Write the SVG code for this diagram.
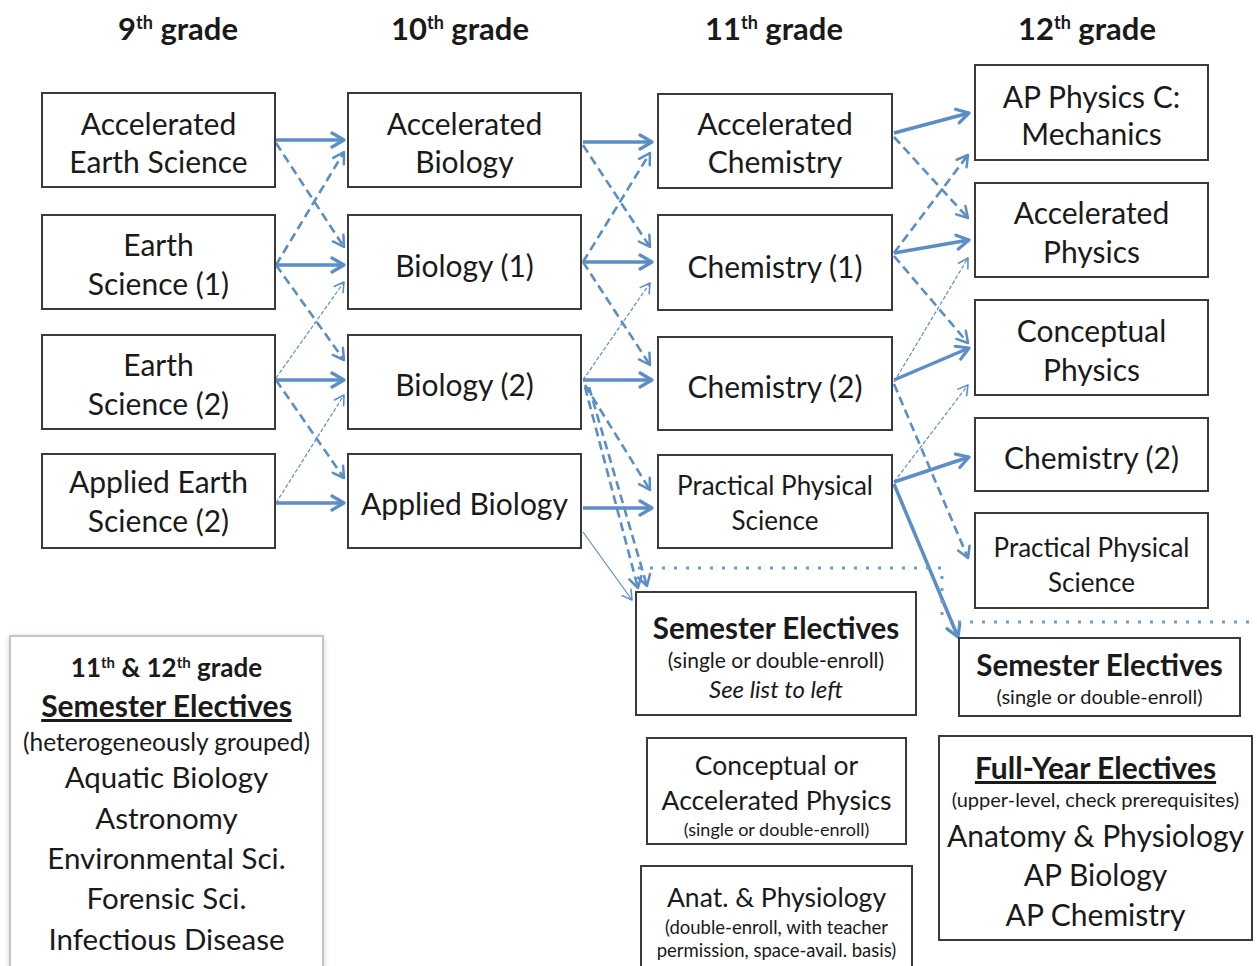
<svg xmlns="http://www.w3.org/2000/svg" width="1257" height="966" viewBox="0 0 1257 966">
<defs>
<style>
.box{fill:#fff;stroke:#3a3a3a;stroke-width:2}
.t{font-family:Lato,"Liberation Sans",sans-serif;fill:#1a1a1a;text-anchor:middle}
.n{font-size:30px}
.h{font-size:31px;font-weight:bold}
.b{font-weight:bold}
.s{stroke:#5b8ec6;stroke-width:3.5;fill:none}
.d{stroke:#5b8ec6;stroke-width:2.6;fill:none;stroke-dasharray:9 5}
.th{stroke:#5b8ec6;stroke-width:1.2;fill:none;stroke-dasharray:4 2}
.tl{stroke:#5b8ec6;stroke-width:1.2;fill:none}
.dot{stroke:#6d9dd2;stroke-width:3;fill:none;stroke-dasharray:3 9}
</style>
<marker id="as" viewBox="0 0 18 18" refX="15" refY="9" markerWidth="18" markerHeight="18" markerUnits="userSpaceOnUse" orient="auto"><path d="M3,2 L15,9 L3,16" fill="none" stroke="#5b8ec6" stroke-width="3.2" stroke-linecap="round" stroke-linejoin="round"/></marker>
<marker id="ad" viewBox="0 0 18 18" refX="15" refY="9" markerWidth="16" markerHeight="16" markerUnits="userSpaceOnUse" orient="auto"><path d="M3,2 L15,9 L3,16" fill="none" stroke="#5b8ec6" stroke-width="2.8" stroke-linecap="round" stroke-linejoin="round"/></marker>
<marker id="at" viewBox="0 0 18 18" refX="15" refY="9" markerWidth="14" markerHeight="14" markerUnits="userSpaceOnUse" orient="auto"><path d="M3,2 L15,9 L3,16" fill="none" stroke="#5b8ec6" stroke-width="2" stroke-linecap="round" stroke-linejoin="round"/></marker>
<filter id="sh" x="-10%" y="-10%" width="120%" height="120%"><feGaussianBlur stdDeviation="3"/></filter>
</defs>
<rect width="1257" height="966" fill="#fff"/>

<g id="headers" class="t h">
<text x="178" y="40">9<tspan font-size="18" dy="-11">th</tspan><tspan dy="11"> grade</tspan></text>
<text x="460" y="40">10<tspan font-size="18" dy="-11">th</tspan><tspan dy="11"> grade</tspan></text>
<text x="774" y="40">11<tspan font-size="18" dy="-11">th</tspan><tspan dy="11"> grade</tspan></text>
<text x="1087" y="40">12<tspan font-size="18" dy="-11">th</tspan><tspan dy="11"> grade</tspan></text>
</g>

<g id="connectors">
<line class="s" x1="276" y1="140" x2="344" y2="140" marker-end="url(#as)"/>
<line class="d" x1="276" y1="143" x2="344" y2="247" marker-end="url(#ad)"/>
<line class="d" x1="276" y1="265" x2="344" y2="152" marker-end="url(#ad)"/>
<line class="s" x1="276" y1="265" x2="344" y2="265" marker-end="url(#as)"/>
<line class="d" x1="276" y1="265" x2="344" y2="360" marker-end="url(#ad)"/>
<line class="th" x1="276" y1="378" x2="344" y2="282" marker-end="url(#at)"/>
<line class="s" x1="276" y1="380" x2="344" y2="380" marker-end="url(#as)"/>
<line class="d" x1="276" y1="380" x2="344" y2="478" marker-end="url(#ad)"/>
<line class="th" x1="276" y1="503" x2="344" y2="395" marker-end="url(#at)"/>
<line class="s" x1="276" y1="503" x2="344" y2="503" marker-end="url(#as)"/>

<line class="s" x1="583" y1="142" x2="652" y2="142" marker-end="url(#as)"/>
<line class="d" x1="583" y1="145" x2="650" y2="247" marker-end="url(#ad)"/>
<line class="d" x1="583" y1="262" x2="650" y2="153" marker-end="url(#ad)"/>
<line class="s" x1="583" y1="262" x2="652" y2="262" marker-end="url(#as)"/>
<line class="d" x1="583" y1="262" x2="650" y2="365" marker-end="url(#ad)"/>
<line class="th" x1="583" y1="380" x2="650" y2="283" marker-end="url(#at)"/>
<line class="s" x1="583" y1="380" x2="652" y2="380" marker-end="url(#as)"/>
<line class="d" x1="585" y1="385" x2="650" y2="490" marker-end="url(#ad)"/>
<line class="d" x1="585" y1="387" x2="638" y2="588" marker-end="url(#ad)"/>
<line class="d" x1="589" y1="387" x2="647" y2="586" marker-end="url(#ad)"/>
<line class="s" x1="583" y1="508" x2="652" y2="508" marker-end="url(#as)"/>
<line class="tl" x1="583" y1="532" x2="632" y2="600" marker-end="url(#at)"/>

<line class="s" x1="894" y1="133" x2="969" y2="113" marker-end="url(#as)"/>
<line class="d" x1="894" y1="137" x2="968" y2="218" marker-end="url(#ad)"/>
<line class="d" x1="894" y1="253" x2="968" y2="155" marker-end="url(#ad)"/>
<line class="s" x1="894" y1="253" x2="969" y2="240" marker-end="url(#as)"/>
<line class="d" x1="894" y1="256" x2="968" y2="343" marker-end="url(#ad)"/>
<line class="th" x1="894" y1="382" x2="968" y2="258" marker-end="url(#at)"/>
<line class="s" x1="894" y1="380" x2="969" y2="348" marker-end="url(#as)"/>
<line class="d" x1="894" y1="384" x2="968" y2="558" marker-end="url(#ad)"/>
<line class="th" x1="894" y1="482" x2="968" y2="385" marker-end="url(#at)"/>
<line class="s" x1="894" y1="482" x2="969" y2="457" marker-end="url(#as)"/>
<line class="s" x1="894" y1="484" x2="958" y2="637" stroke-width="3" marker-end="url(#as)"/>

<path class="dot" d="M638,568 H942 V618"/>
<path class="dot" d="M958,622 H1257"/>
</g>

<g id="n-aes"><rect class="box" x="42" y="93" width="233" height="94"/>
<text class="t n" x="158.5" y="135">Accelerated</text><text class="t n" x="158.5" y="173">Earth Science</text></g>
<g id="n-es1"><rect class="box" x="42" y="215" width="233" height="94"/>
<text class="t n" x="158.5" y="256">Earth</text><text class="t n" x="158.5" y="295">Science (1)</text></g>
<g id="n-es2"><rect class="box" x="42" y="335" width="233" height="94"/>
<text class="t n" x="158.5" y="376">Earth</text><text class="t n" x="158.5" y="415">Science (2)</text></g>
<g id="n-aes2"><rect class="box" x="42" y="454" width="233" height="94"/>
<text class="t n" x="158.5" y="493">Applied Earth</text><text class="t n" x="158.5" y="532">Science (2)</text></g>

<g id="n-ab"><rect class="box" x="348" y="93" width="233" height="94"/>
<text class="t n" x="464.5" y="135">Accelerated</text><text class="t n" x="464.5" y="173">Biology</text></g>
<g id="n-b1"><rect class="box" x="348" y="215" width="233" height="94"/>
<text class="t n" x="464.5" y="277">Biology (1)</text></g>
<g id="n-b2"><rect class="box" x="348" y="335" width="233" height="94"/>
<text class="t n" x="464.5" y="396">Biology (2)</text></g>
<g id="n-apb"><rect class="box" x="348" y="454" width="233" height="94"/>
<text class="t n" x="464.5" y="515">Applied Biology</text></g>

<g id="n-ac"><rect class="box" x="658" y="94" width="234" height="94"/>
<text class="t n" x="775" y="135">Accelerated</text><text class="t n" x="775" y="173">Chemistry</text></g>
<g id="n-c1"><rect class="box" x="658" y="215" width="234" height="95"/>
<text class="t n" x="775" y="278">Chemistry (1)</text></g>
<g id="n-c2"><rect class="box" x="658" y="337" width="234" height="93"/>
<text class="t n" x="775" y="398">Chemistry (2)</text></g>
<g id="n-pps"><rect class="box" x="658" y="455" width="234" height="93"/>
<text class="t" font-size="26" x="775" y="495">Practical Physical</text><text class="t" font-size="26" x="775" y="530">Science</text></g>

<g id="n-apc"><rect class="box" x="975" y="65" width="233" height="95"/>
<text class="t n" x="1091.5" y="108">AP Physics C:</text><text class="t n" x="1091.5" y="145">Mechanics</text></g>
<g id="n-ap"><rect class="box" x="975" y="183" width="233" height="94"/>
<text class="t n" x="1091.5" y="224">Accelerated</text><text class="t n" x="1091.5" y="263">Physics</text></g>
<g id="n-cp"><rect class="box" x="975" y="300" width="233" height="95"/>
<text class="t n" x="1091.5" y="342">Conceptual</text><text class="t n" x="1091.5" y="381">Physics</text></g>
<g id="n-c2b"><rect class="box" x="975" y="418" width="233" height="73"/>
<text class="t n" x="1091.5" y="469">Chemistry (2)</text></g>
<g id="n-pps2"><rect class="box" x="975" y="513" width="233" height="95"/>
<text class="t" font-size="26" x="1091.5" y="557">Practical Physical</text><text class="t" font-size="26" x="1091.5" y="592">Science</text></g>

<g id="n-se11"><rect class="box" x="636" y="592" width="280" height="123"/>
<text class="t b" font-size="29.5" x="776" y="639">Semester Electives</text>
<text class="t" font-size="21" x="776" y="668">(single or double-enroll)</text>
<text class="t" font-size="24" font-style="italic" x="776" y="698">See list to left</text></g>
<g id="n-se12"><rect class="box" x="959" y="638" width="281" height="78"/>
<text class="t b" font-size="29.5" x="1099.5" y="676">Semester Electives</text>
<text class="t" font-size="20" x="1099.5" y="704">(single or double-enroll)</text></g>

<g id="n-cap"><rect class="box" x="647" y="738" width="259" height="106"/>
<text class="t" font-size="26.5" x="776.5" y="775">Conceptual or</text>
<text class="t" font-size="26.5" x="776.5" y="810">Accelerated Physics</text>
<text class="t" font-size="18" x="776.5" y="836">(single or double-enroll)</text></g>
<g id="n-anat"><rect class="box" x="641" y="866" width="271" height="110"/>
<text class="t" font-size="26.5" x="776.5" y="907">Anat. &amp; Physiology</text>
<text class="t" font-size="18.5" x="776.5" y="934">(double-enroll, with teacher</text>
<text class="t" font-size="18.5" x="776.5" y="957">permission, space-avail. basis)</text></g>

<g id="n-fye"><rect class="box" x="939" y="736" width="313" height="204"/>
<text class="t b" font-size="30" x="1095.5" y="779" text-decoration="underline">Full-Year Electives</text>
<text class="t" font-size="20" x="1095.5" y="807">(upper-level, check prerequisites)</text>
<text class="t" font-size="30" x="1095.5" y="847">Anatomy &amp; Physiology</text>
<text class="t" font-size="30" x="1095.5" y="886">AP Biology</text>
<text class="t" font-size="30" x="1095.5" y="926">AP Chemistry</text></g>

<g id="n-left">
<rect x="10" y="637" width="313" height="340" fill="#888" opacity="0.5" filter="url(#sh)"/>
<rect x="10" y="636" width="313" height="340" fill="#fff" stroke="#b5b5b5" stroke-width="1.5"/>
<text class="t b" font-size="26" x="166.5" y="677">11<tspan font-size="15" dy="-9">th</tspan><tspan dy="9"> &amp; 12</tspan><tspan font-size="15" dy="-9">th</tspan><tspan dy="9"> grade</tspan></text>
<text class="t b" font-size="30" x="166.5" y="717" text-decoration="underline">Semester Electives</text>
<text class="t" font-size="24.5" x="166.5" y="751">(heterogeneously grouped)</text>
<text class="t" font-size="29.5" x="166.5" y="788">Aquatic Biology</text>
<text class="t" font-size="29.5" x="166.5" y="829">Astronomy</text>
<text class="t" font-size="29.5" x="166.5" y="869">Environmental Sci.</text>
<text class="t" font-size="29.5" x="166.5" y="909">Forensic Sci.</text>
<text class="t" font-size="29.5" x="166.5" y="950">Infectious Disease</text>
</g>
</svg>
